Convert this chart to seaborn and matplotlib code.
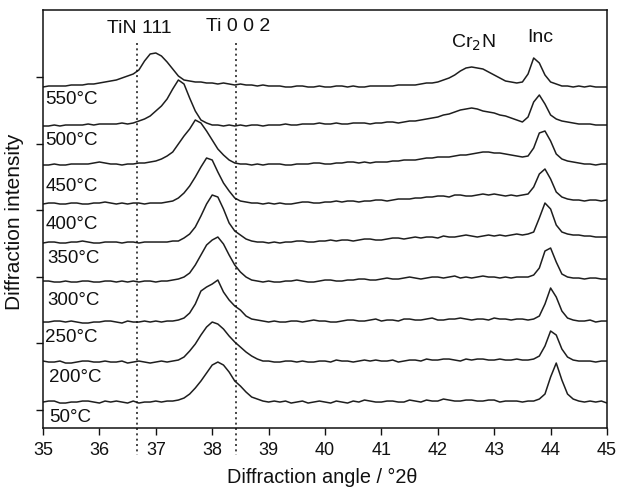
# XRD patterns of the coating after annealing, stacked by temperature

import numpy as np
import pandas as pd
import matplotlib
matplotlib.use('Agg')
import matplotlib.pyplot as plt
import seaborn as sns

#=================================#
# Data
#=================================#

# Diffraction angle grid (°2θ): 35.0 to 45.0 in 0.1 steps
angle = np.round(np.linspace(35.0, 45.0, 101), 1)

temperatures = ['50°C', '200°C', '250°C', '300°C', '350°C', '400°C', '450°C', '500°C', '550°C']

# vertical shift of each pattern (a.u.)
offsets = [0, 40, 80, 120, 159, 198, 237, 276, 315]

# intensity above each pattern's own baseline (a.u.)
# rows: 35.0-36.2 | 36.3-39.0 | 39.1-43.2 | 43.3-44.5 | 44.6-45.0
i_50 = [0, 1, 1, -1, -1, 0, 0, 1, 1, 0, -1, 1, 0,
        1, 0, -1, 1, -1, 0, 0, 1, 0, 1, 1, 2, 4, 8, 14, 21, 29, 37, 40, 37, 30, 21, 16, 10, 5, 3, 1, 0,
        1, 0, 1, -1, 0, 1, -1, 0, 1, 0, -1, 1, 0, -1, 1, 0, 2, 1, 0, 0, 1, 1, 0, 0, 2, 1, 0, 2, 1, 1,
        3, 2, 1, 1, 2, 2, 1, 1, 2, 2, 0, 1,
        1, 1, 0, 1, 1, 3, 8, 25, 39, 22, 8, 3, 1,
        0, 1, 0, 1, -1]
i_200 = [1, 0, 0, 1, -1, -1, 0, 1, 1, 0, 0, 1, 0,
         0, 1, -1, 0, 1, 0, -1, 0, 1, 0, 1, 2, 5, 11, 18, 27, 35, 40, 38, 33, 26, 20, 15, 10, 6, 3, 1, 1,
         0, 0, 1, 1, 0, 1, 0, 0, 1, 1, 0, 2, 1, 1, 0, 1, 2, 1, 2, 1, 1, 2, 0, 1, 2, 2, 1, 3, 2, 2,
         3, 3, 2, 1, 3, 2, 3, 3, 2, 2, 3, 2,
         2, 3, 2, 2, 3, 6, 16, 31, 27, 13, 5, 2, 1,
         1, 1, 0, 1, 1]
i_250 = [0, 0, 1, 1, 0, 1, 0, -1, -1, 0, 0, 1, 1,
         0, -1, 1, 0, 0, 1, 0, 1, 0, 1, 1, 2, 4, 9, 18, 31, 35, 38, 42, 30, 22, 16, 12, 6, 3, 2, 1, 0,
         1, 0, 0, 1, 1, 0, 1, 2, 1, 1, 0, 0, 1, 2, 2, 1, 1, 2, 3, 1, 2, 2, 1, 3, 3, 2, 2, 3, 4, 2,
         2, 3, 3, 4, 3, 2, 3, 3, 2, 4, 3, 3,
         2, 3, 3, 2, 3, 6, 18, 34, 25, 11, 4, 2, 1,
         1, 2, 0, 1, 1]
i_300 = [1, 1, 0, 0, 1, 0, 0, 1, 1, 0, 0, 1, 1,
         0, 1, 0, 1, 0, 1, 1, 0, 1, 1, 2, 3, 5, 9, 17, 27, 37, 42, 45, 38, 27, 17, 10, 5, 2, 1, 0, 1,
         0, 0, 1, 1, 2, 1, 0, 0, 1, 2, 2, 1, 1, 2, 2, 3, 3, 2, 2, 3, 4, 3, 3, 4, 5, 4, 3, 4, 5, 5,
         4, 5, 6, 4, 5, 4, 5, 6, 5, 5, 4, 5,
         4, 5, 5, 5, 7, 14, 31, 34, 20, 8, 5, 4, 4,
         3, 4, 4, 3, 3]
i_350 = [0, 1, 1, 0, 0, 1, 1, 2, 1, 0, 0, 1, 1,
         1, 0, 1, 1, 0, 1, 1, 1, 1, 1, 2, 2, 5, 9, 16, 27, 39, 48, 46, 34, 20, 12, 8, 4, 2, 1, 1, 0,
         1, 0, 1, 1, 2, 2, 1, 1, 2, 2, 3, 2, 3, 3, 2, 3, 4, 4, 3, 3, 4, 5, 5, 4, 5, 6, 5, 6, 6, 5,
         7, 6, 6, 7, 8, 7, 6, 7, 8, 7, 8, 7,
         8, 9, 8, 9, 11, 25, 40, 34, 18, 11, 9, 8, 8,
         7, 7, 6, 6, 6]
i_400 = [0, 1, 1, 0, 0, 1, 1, 0, 0, 1, 1, 2, 1,
         0, 1, 0, 1, 1, 0, 1, 1, 1, 2, 3, 6, 11, 18, 27, 37, 46, 44, 32, 21, 13, 6, 3, 2, 1, 1, 0, 1,
         0, 1, 0, 0, 1, 2, 2, 1, 1, 2, 2, 3, 2, 3, 3, 2, 3, 3, 4, 4, 3, 4, 5, 5, 5, 6, 6, 7, 7, 8,
         8, 7, 9, 9, 8, 8, 9, 10, 9, 10, 9, 8,
         9, 8, 9, 10, 17, 30, 35, 25, 12, 7, 5, 4, 4,
         3, 4, 4, 3, 4]
i_450 = [0, 0, 1, 0, 0, 1, 1, 1, 1, 2, 3, 2, 1,
         1, 0, 1, 1, 2, 2, 3, 4, 6, 9, 13, 21, 29, 36, 45, 42, 34, 25, 16, 10, 5, 2, 1, 1, 0, 1, 0, 1,
         1, 1, 0, 0, 1, 1, 1, 2, 2, 1, 1, 2, 2, 3, 3, 2, 3, 2, 3,
         3, 3, 4, 4, 5, 5, 5, 6, 7, 7, 8, 8, 8, 9, 10, 10, 11, 12, 13, 13, 12, 12, 11,
         10, 9, 8, 9, 17, 32, 34, 24, 11, 6, 4, 3, 2,
         1, 1, 0, 1, 1]
i_500 = [0, 0, 1, 0, 1, 1, 1, 1, 2, 1, 2, 2, 2,
         2, 3, 2, 3, 5, 7, 10, 15, 20, 27, 37, 46, 42, 28, 15, 6, 3, 1, 1, 0, 1, 0, 1, 0, 1, 1, 0, 1,
         1, 1, 2, 1, 1, 2, 2, 2, 3, 2, 2, 3, 2, 2, 3, 3, 3, 2, 3,
         3, 4, 4, 3, 4, 5, 5, 6, 7, 8, 9, 11, 12, 14, 16, 17, 18, 17, 15, 14, 13, 11, 10,
         8, 6, 4, 9, 24, 31, 22, 11, 7, 5, 4, 3, 2,
         2, 2, 1, 1, 1]
i_550 = [0, 1, 1, 1, 1, 2, 2, 2, 3, 3, 4, 5, 6,
         7, 9, 11, 13, 17, 26, 33, 34, 31, 25, 18, 11, 7, 6, 5, 5, 4, 4, 3, 4, 3, 2, 3, 2, 2, 1, 2, 1,
         1, 1, 0, 0, 1, 1, 0, 0, 1, 0, 0, 1, 1, 0, 1, 0, 0, 1, 1,
         1, 1, 1, 2, 2, 2, 2, 3, 4, 4, 5, 7, 9, 12, 16, 19, 20, 19, 18, 15, 12, 9, 6,
         5, 4, 5, 13, 29, 24, 12, 5, 3, 1, 1, 0, 1,
         0, 1, 0, 0, 0]

patterns = [i_50, i_200, i_250, i_300, i_350, i_400, i_450, i_500, i_550]

# reference line positions (°2θ)
tin_111 = 36.67
ti_002 = 38.43

#=================================#
# Long-form table for seaborn
#=================================#
rows = []
for temp, off, vals in zip(temperatures, offsets, patterns):
    assert len(vals) == len(angle), temp
    for a, v in zip(angle, vals):
        rows.append({'angle': a, 'intensity': v + off, 'temp': temp})
xrd_df = pd.DataFrame(rows)

#=================================#
# Plot
#=================================#
sns.set_theme(style='ticks')
plt.rcParams['font.family'] = ['Liberation Sans', 'DejaVu Sans']

fig = plt.figure(figsize=(6.17, 4.92), dpi=100)
ax = fig.add_axes([0.0697, 0.130, 0.9141, 0.8497])

sns.lineplot(data=xrd_df, x='angle', y='intensity', hue='temp', hue_order=temperatures,
             palette=['#1e1e1e'] * len(temperatures), legend=False, linewidth=1.1, ax=ax)

# dotted reference lines (run below the axis, through the tick labels)
for pos in [tin_111, ti_002]:
    ax.plot([pos, pos], [359, -53], color='#111111', linestyle=(0, (1.3, 2.2)),
            linewidth=1.1, clip_on=False)

# peak labels
ax.text(36.70, 373, 'TiN 111', ha='center', va='center', fontsize=14, color='#111111')
ax.text(38.46, 375, 'Ti 0 0 2', ha='center', va='center', fontsize=14, color='#111111')
ax.text(42.62, 359, 'Cr$_2$N', ha='center', va='center', fontsize=14, color='#111111')
ax.text(43.81, 364, 'Inc', ha='center', va='center', fontsize=14, color='#111111')

# temperature labels, just under each pattern
label_y = [-15, 25, 65, 102, 144, 178, 216, 262, 302]
label_x = [35.11, 35.11, 35.04, 35.07, 35.07, 35.05, 35.05, 35.04, 35.04]
for temp, lx, ly in zip(temperatures, label_x, label_y):
    ax.text(lx, ly, temp, ha='left', va='center', fontsize=13.5, color='#111111')

ax.set_xlim(35, 45)
ax.set_ylim(-26, 392)
ax.set_xticks(range(35, 46))
ax.set_yticks([-8, 58.6, 125.2, 191.8, 258.4, 325])
ax.set_yticklabels([])
ax.tick_params(axis='both', direction='out', length=5, width=1, colors='#111111',
               labelsize=13, pad=5)

for side in ['top', 'right', 'bottom', 'left']:
    ax.spines[side].set_visible(True)
    ax.spines[side].set_color('#111111')
    ax.spines[side].set_linewidth(1.1)

ax.set_xlabel('Diffraction angle / °2θ', fontsize=14.3, color='#111111')
ax.set_ylabel('Diffraction intensity', fontsize=15, color='#111111')
ax.xaxis.set_label_coords(0.495, -0.096)
ax.yaxis.set_label_coords(-0.034, 0.493)

plt.savefig('out.png', dpi=100)
